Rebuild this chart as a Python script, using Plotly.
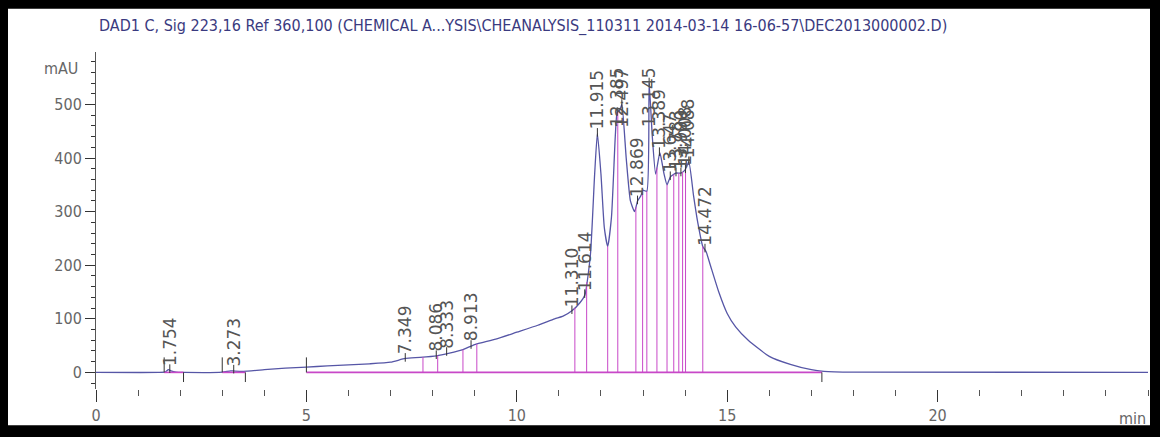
import numpy as np
import plotly.graph_objects as go

# Detector trace (retention time in min, absorbance in mAU)
trace_t = [0, 1.5, 1.65, 1.72, 1.78, 1.9, 2.1, 3.0, 3.2, 3.3, 3.5, 4.0, 4.5, 5.0, 5.5,
           6.0, 6.5, 7.0, 7.35, 7.7, 8.09, 8.4, 8.7, 9.0, 9.5, 10.0, 10.5, 10.9, 11.1,
           11.31, 11.5, 11.62, 11.75, 11.85, 11.915, 12.0, 12.08, 12.16, 12.25, 12.34,
           12.385, 12.45, 12.497, 12.6, 12.7, 12.8, 12.87, 12.95, 13.0, 13.09, 13.145,
           13.22, 13.3, 13.4, 13.5, 13.57, 13.65, 13.78, 13.9, 14.0, 14.088, 14.2, 14.3,
           14.42, 14.5, 14.6, 14.8, 15.0, 15.2, 15.5, 16.0, 16.5, 17.0, 17.3, 18.0, 25.0]
trace_mau = [0, 0, 1, 5, 3, 0.5, 0, 0.5, 3, 2.5, 2, 5, 8, 10, 12,
             14, 16, 19, 26, 28, 31, 36, 42, 52, 62, 75, 88, 100, 105,
             115, 130, 145, 220, 370, 446, 370, 270, 235, 290, 440,
             485, 490, 500, 400, 320, 300, 320, 330, 340, 338, 540,
             440, 370, 410, 370, 350, 365, 372, 372, 378, 393, 330, 280,
             235, 225, 200, 150, 110, 85, 60, 30, 15, 5, 2, 0.5, 0]

# Integrated peaks: retention time labels and apex height
peak_labels = ["1.754", "3.273", "7.349", "8.086", "8.333", "8.913", "11.310", "11.614",
               "11.915", "12.385", "12.497", "12.869", "13.145", "13.389", "13.647",
               "13.783", "13.900", "14.008", "14.088", "14.472"]
peak_mau = [5, 4, 26, 31, 37, 50, 115, 145, 446, 485, 500, 320, 540, 410, 365,
            372, 372, 378, 393, 230]

# Peak separation drop lines (min)
drop_t = [7.77, 8.12, 8.72, 9.05, 11.38, 11.66, 12.16, 12.40, 12.83, 12.99, 13.09,
          13.33, 13.57, 13.73, 13.85, 13.94, 14.01, 14.42]

# Integration baselines (start, end in min)
base_start = [1.62, 3.0, 5.0]
base_end = [2.08, 3.55, 17.25]

x_ticks = [0, 5, 10, 15, 20]
y_ticks = [0, 100, 200, 300, 400, 500]

title_text = ("DAD1 C, Sig 223,16 Ref 360,100 (CHEMICAL A...YSIS\\CHEANALYSIS_110311 "
              "2014-03-14 16-06-57\\DEC2013000002.D)")

W, H = 1160, 437
ML, MR, MT, MB = 96, 12, 52, 42
PW, PH = W - ML - MR, H - MT - MB

NARROW = "DejaVu Sans Condensed, Liberation Sans Narrow, sans-serif"
MAGENTA = "#c848c8"
TRACE = "#5656a6"

fig = go.Figure()

fig.add_trace(go.Scatter(x=trace_t, y=trace_mau, mode="lines",
                         line=dict(color=TRACE, width=1.3, shape="spline", smoothing=0.5),
                         hoverinfo="skip", showlegend=False))

shapes = []


def px2paper_x(px):
    return (px - ML) / PW


def px2paper_y(py):
    return (H - MB - py) / PH


# black page edge with white sheet
shapes.append(dict(type="rect", xref="paper", yref="paper", layer="below",
                   x0=px2paper_x(8), x1=px2paper_x(1150), y0=px2paper_y(432), y1=px2paper_y(8),
                   fillcolor="white", line=dict(width=0)))

# integration baselines with start/end marks
for s, e in zip(base_start, base_end):
    shapes.append(dict(type="line", xref="x", yref="y", x0=s, x1=e, y0=0, y1=0,
                       line=dict(color=MAGENTA, width=1.6)))
    shapes.append(dict(type="line", xref="x", yref="y", x0=s, x1=s, y0=0, y1=28,
                       line=dict(color="#333", width=1)))
    shapes.append(dict(type="line", xref="x", yref="y", x0=e, x1=e, y0=0, y1=-18,
                       line=dict(color="#333", width=1)))

# drop lines from baseline to trace
for t in drop_t:
    top = float(np.interp(t, trace_t, trace_mau))
    shapes.append(dict(type="line", xref="x", yref="y", x0=t, x1=t, y0=0, y1=top,
                       line=dict(color=MAGENTA, width=1)))

annotations = []
# retention time labels above each apex
for lab, h in zip(peak_labels, peak_mau):
    t = float(lab)
    annotations.append(dict(x=t, y=min(h, 450), xref="x", yref="y", text=lab,
                            showarrow=False, textangle=-90, xanchor="center", yanchor="bottom",
                            yshift=2, font=dict(family="DejaVu Sans", size=17, color="#555")))
    shapes.append(dict(type="line", xref="x", yref="y", x0=t, x1=t, y0=h - 6, y1=h + 10,
                       line=dict(color="#333", width=1)))

annotations.append(dict(x=0, y=1, xref="paper", yref="paper", text=title_text, showarrow=False,
                        xanchor="left", yanchor="bottom", yshift=14, xshift=1,
                        font=dict(family=NARROW, size=16, color="#3a3a80")))
annotations.append(dict(x=0, y=598, xref="paper", yref="y", text="mAU", showarrow=False,
                        xanchor="right", yanchor="top", xshift=-16, yshift=-5,
                        font=dict(family=NARROW, size=16, color="#666")))
annotations.append(dict(x=1, y=0, xref="paper", yref="paper", text="min", showarrow=False,
                        xanchor="right", yanchor="top", yshift=-18,
                        font=dict(family=NARROW, size=16, color="#666")))

fig.update_layout(
    width=W, height=H,
    margin=dict(l=ML, r=MR, t=MT, b=MB, pad=0),
    paper_bgcolor="black", plot_bgcolor="rgba(0,0,0,0)",
    shapes=shapes, annotations=annotations, showlegend=False,
)

fig.update_xaxes(range=[0, 25], tickvals=x_ticks, ticktext=[str(v) for v in x_ticks],
                 showgrid=False, zeroline=False, showline=False,
                 ticks="outside", ticklen=12, tickwidth=1, tickcolor="#333",
                 tickfont=dict(family=NARROW, size=16, color="#666"),
                 minor=dict(dtick=1, ticks="outside", ticklen=6, tickcolor="#555", showgrid=False))
fig.update_yaxes(range=[-31, 598], tickvals=y_ticks, ticktext=[str(v) for v in y_ticks],
                 showgrid=False, zeroline=False, showline=True, linecolor="#555", linewidth=1,
                 ticks="outside", ticklen=10, tickwidth=1, tickcolor="#333",
                 tickfont=dict(family=NARROW, size=16, color="#666"),
                 minor=dict(dtick=20, tick0=0, ticks="outside", ticklen=4, tickcolor="#333",
                            showgrid=False))

fig.write_html("out.html")
